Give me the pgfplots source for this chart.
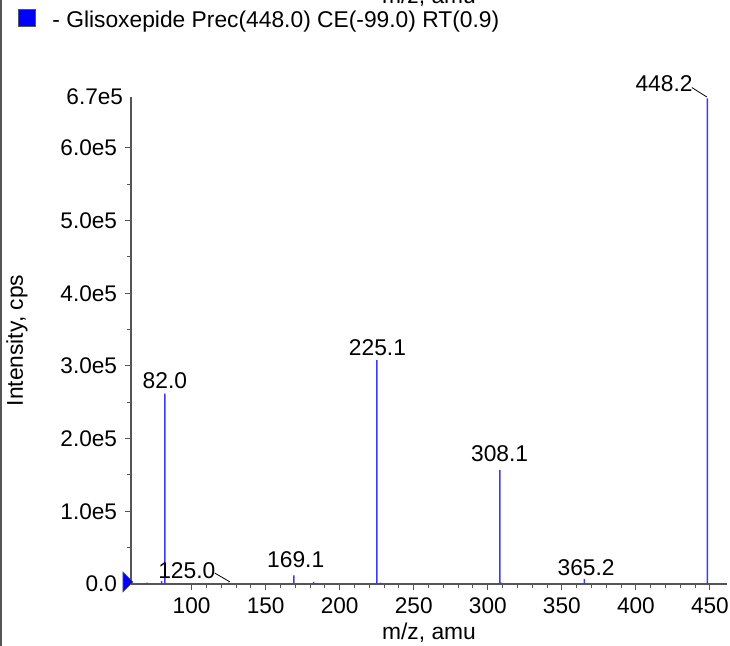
\documentclass[border=0pt]{standalone}
\usepackage{fontspec}
\setmainfont{Liberation Sans}
\usepackage{pgfplots}
\pgfplotsset{compat=1.18}

\definecolor{axgray}{HTML}{555555}
\definecolor{peakblue}{HTML}{3A3AFF}

% right-pointing triangle at the origin of the intensity axis
\pgfdeclareplotmark{rtri}{%
  \pgfpathmoveto{\pgfqpoint{-4pt}{6pt}}%
  \pgfpathlineto{\pgfqpoint{1pt}{1pt}}%
  \pgfpathlineto{\pgfqpoint{-4pt}{-4pt}}%
  \pgfpathclose
  \pgfusepathqfillstroke}

\begin{document}
\fontsize{11.4pt}{13.5pt}\selectfont
\begin{tikzpicture}
\begin{axis}[
  scale only axis,
  width=298pt, height=243.5pt,
  xmin=59.1, xmax=461.5,
  ymin=0, ymax=6.7e5,
  clip=false,
  axis lines*=left,
  axis line style={axgray, line width=0.6pt, -},
  tick style={axgray, line width=0.5pt},
  tick align=outside,
  major tick length=3pt,
  minor tick length=1.8pt,
  xtick={100,150,...,450},
  minor x tick num=4,
  ytick={0,1e5,2e5,3e5,4e5,5e5,6e5},
  yticklabels={0.0,1.0e5,2.0e5,3.0e5,4.0e5,5.0e5,6.0e5},
  minor y tick num=1,
  extra y ticks={6.7e5},
  extra y tick labels={6.7e5},
  extra y tick style={major tick length=0pt},
  scaled y ticks=false,
  /pgf/number format/assume math mode=true,
  xticklabel style={font=\fontsize{11.3pt}{13pt}\selectfont},
  yticklabel style={font=\fontsize{11.3pt}{13pt}\selectfont},
  xlabel={m/z, amu},
  ylabel={Intensity, cps},
  xlabel style={at={(axis description cs:0.5,0)}, anchor=base, yshift=-28pt},
  ylabel style={at={([xshift=-57pt]axis description cs:0,0.5)}, anchor=center},
]
% spectrum peaks (m/z, intensity), drawn as thin bars
\addplot[ybar, bar width=0.75pt, fill=peakblue, draw=none] coordinates {
  (70.0,2e3) (79.7,4e3) (82.0,2.62e5) (125.0,2e3) (169.1,1.2e4)
  (182.4,3e3) (225.1,3.08e5) (227.7,2e3) (308.1,1.57e5) (309.2,2e3)
  (365.2,7e3) (448.2,6.68e5)
};
\addplot[only marks, mark=rtri, fill=blue, draw=axgray, line width=0.3pt] coordinates {(59.1,0)};

% peak labels
\node[anchor=base, inner sep=0] at (axis cs:82,2.69e5) {82.0};
\node[anchor=base, inner sep=0] at (axis cs:225.5,3.15e5) {225.1};
\node[anchor=base, inner sep=0] at (axis cs:308,1.68e5) {308.1};
\node[anchor=base, inner sep=0] at (axis cs:170.3,0.22e5) {169.1};
\node[anchor=base, inner sep=0] at (axis cs:366.4,0.12e5) {365.2};
\node[anchor=base, inner sep=0] at (axis cs:96.8,0.07e5) {125.0};
\node[anchor=base, inner sep=0] at (axis cs:419,6.77e5) {448.2};
\draw[black, line width=0.4pt] (axis cs:115.7,0.15e5) -- (axis cs:125.8,0.03e5);
\draw[black, line width=0.4pt] (axis cs:437.8,6.83e5) -- (axis cs:447.9,6.70e5);
\end{axis}

% legend entry and the cut-off label of the panel above
\filldraw[fill=blue, draw=axgray, line width=0.4pt] (-56.5pt,279pt) rectangle (-48pt,287.5pt);
\node[anchor=base west, inner sep=0] at (-39.5pt,278pt) {- Glisoxepide Prec(448.0) CE(-99.0) RT(0.9)};
\node[anchor=base, inner sep=0] at (149pt,290.3pt) {m/z, amu};
\draw[axgray, line width=1pt] (-64.75pt,-31pt) -- (-64.75pt,292pt);

\pgfresetboundingbox
\useasboundingbox (-65.5pt,-31pt) rectangle (299.5pt,292pt);
\end{tikzpicture}
\end{document}
